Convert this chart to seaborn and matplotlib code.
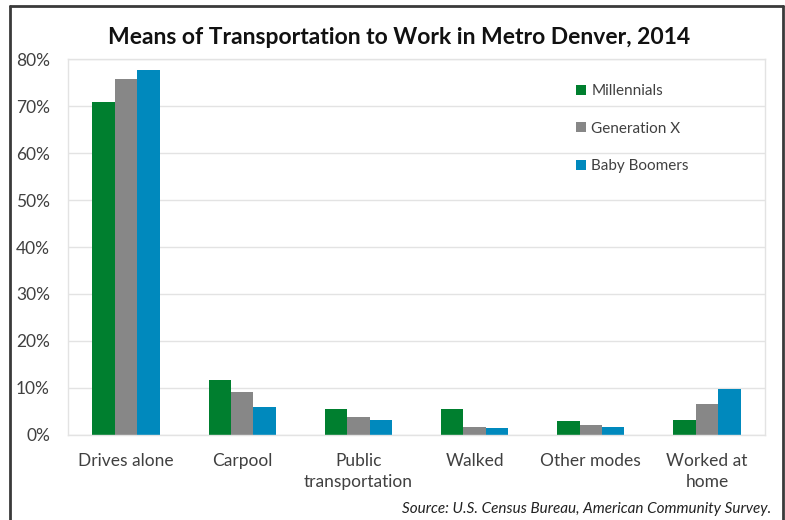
import seaborn as sns
import matplotlib.pyplot as plt
import pandas as pd
from matplotlib.lines import Line2D
from matplotlib.ticker import PercentFormatter

# data (percent of workers)
modes = ["Drives alone", "Carpool", "Public\ntransportation", "Walked",
         "Other modes", "Worked at\nhome"]
millennials = [70.8, 11.8, 5.5, 5.5, 3.0, 3.2]
gen_x = [75.8, 9.2, 3.9, 1.8, 2.1, 6.6]
boomers = [77.7, 6.0, 3.2, 1.4, 1.6, 9.7]
groups = ["Millennials", "Generation X", "Baby Boomers"]
colors = ["#007F2F", "#878787", "#0089BD"]

df = pd.DataFrame({
    "Mode": modes * 3,
    "Share": millennials + gen_x + boomers,
    "Group": [g for g in groups for _ in modes],
})

sns.set_style("white")
plt.rcParams["font.family"] = ["Lato", "DejaVu Sans"]

fig = plt.figure(figsize=(7.85, 5.2), dpi=100)
ax = fig.add_axes([0.0866, 0.1635, 0.888, 0.723])

sns.barplot(data=df, x="Mode", y="Share", hue="Group", palette=colors,
            saturation=1, width=0.58, gap=0, linewidth=0, ax=ax)

ax.set_ylim(0, 80)
ax.set_xlim(-0.5, len(modes) - 0.5)
ax.set_yticks(range(0, 81, 10))
ax.yaxis.set_major_formatter(PercentFormatter(decimals=0))
ax.grid(axis="y", color="#E3E3E3", linewidth=1)
ax.set_axisbelow(True)
for s in ax.spines.values():
    s.set_color("#E3E3E3")
    s.set_linewidth(1)
ax.tick_params(axis="both", length=0, labelsize=12.5, colors="#404040")
ax.tick_params(axis="x", pad=13)
ax.tick_params(axis="y", pad=13)
for lbl in ax.get_xticklabels():
    lbl.set_linespacing(1.4)
ax.set_xlabel("")
ax.set_ylabel("")

leg = ax.legend(loc="upper left", bbox_to_anchor=(0.709, 0.97), frameon=False,
                handlelength=0.65, handleheight=0.65, handletextpad=0.35,
                labelspacing=1.55, fontsize=11)
for t in leg.get_texts():
    t.set_color("#404040")

fig.text(0.508, 0.927, "Means of Transportation to Work in Metro Denver, 2014",
         ha="center", va="center", fontsize=16.5, fontweight="bold", color="#111111")
fig.text(0.982, 0.022, "Source: U.S. Census Bureau, American Community Survey.",
         ha="right", va="center", fontsize=11, style="italic", color="#222222")

# dark frame on left, top and right
fr = dict(color="#3A3A3A", linewidth=2, transform=fig.transFigure)
fig.add_artist(Line2D([0.0127, 0.0127], [0, 0.989], **fr))
fig.add_artist(Line2D([0.0127, 0.9975], [0.989, 0.989], **fr))
fig.add_artist(Line2D([0.9975, 0.9975], [0, 0.989], **fr))

plt.savefig("out.png", dpi=100)
plt.close()
